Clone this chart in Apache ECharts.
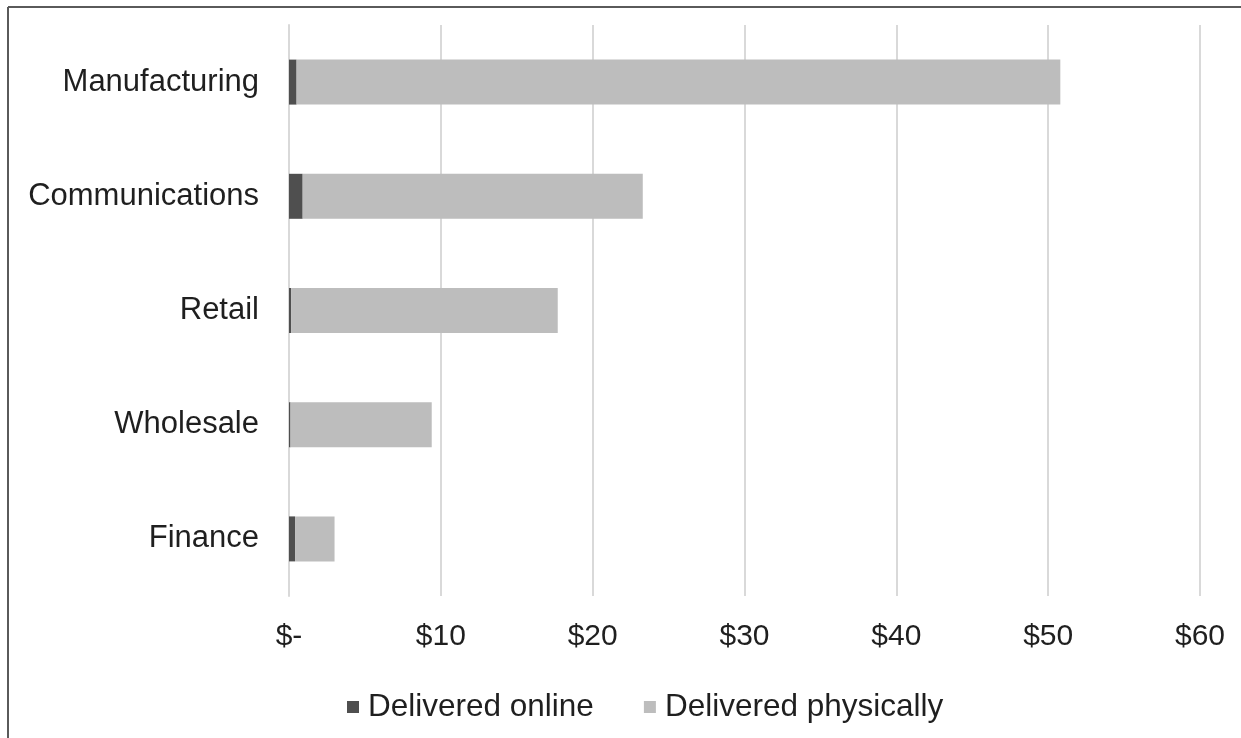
<!DOCTYPE html>
<html>
<head>
<meta charset="utf-8">
<script src="https://cdn.jsdelivr.net/npm/echarts@6/dist/echarts.min.js"></script>
<style>
html,body{margin:0;padding:0;background:#fff;}
#chart{width:1241px;height:738px;}
</style>
</head>
<body>
<div id="chart"></div>
<script>
var categories = ['Manufacturing', 'Communications', 'Retail', 'Wholesale', 'Finance'];
var seriesNames = ['Delivered online', 'Delivered physically'];
var deliveredOnline = [0.5, 0.9, 0.15, 0.1, 0.4];
var deliveredPhysically = [50.3, 22.4, 17.55, 9.3, 2.6];
var xTicks = { min: 0, max: 60, interval: 10 };

var chart = echarts.init(document.getElementById('chart'));
var font = '"Liberation Sans", Arial, sans-serif';
chart.setOption({
  animation: false,
  graphic: [
    { type: 'line', shape: { x1: 8, y1: 7, x2: 1241, y2: 7 }, style: { stroke: '#5a5a5a', lineWidth: 2 } },
    { type: 'line', shape: { x1: 8, y1: 7, x2: 8, y2: 738 }, style: { stroke: '#5a5a5a', lineWidth: 2 } }
  ],
  grid: { left: 289, right: 41, top: 25, bottom: 142, containLabel: false },
  legend: {
    data: seriesNames,
    left: 342,
    top: 686,
    itemWidth: 12,
    itemHeight: 12,
    itemGap: 50,
    icon: 'rect',
    textStyle: { fontFamily: font, fontSize: 31.5, color: '#1f1f1f', padding: [0, 0, 0, 4] }
  },
  xAxis: {
    type: 'value',
    min: xTicks.min, max: xTicks.max, interval: xTicks.interval,
    axisLine: { show: false },
    axisTick: { show: false },
    splitLine: { lineStyle: { color: '#d9d9d9', width: 2 } },
    axisLabel: {
      fontFamily: font, fontSize: 30, color: '#1f1f1f', margin: 26,
      formatter: function (v) { return v === 0 ? '$-' : '$' + v; }
    }
  },
  yAxis: {
    type: 'category',
    data: categories,
    inverse: true,
    axisLine: { show: true, lineStyle: { color: '#d9d9d9', width: 2 } },
    axisTick: { show: false },
    axisLabel: { fontFamily: font, fontSize: 31, color: '#1f1f1f', margin: 30,
      padding: [6, 0, 0, 0] }
  },
  series: [
    { name: seriesNames[0], type: 'bar', stack: 'total', data: deliveredOnline, barWidth: 45,
      itemStyle: { color: '#4f4f4f' } },
    { name: seriesNames[1], type: 'bar', stack: 'total', data: deliveredPhysically, barWidth: 45,
      itemStyle: { color: '#bdbdbd' } }
  ]
});
</script>
</body>
</html>
